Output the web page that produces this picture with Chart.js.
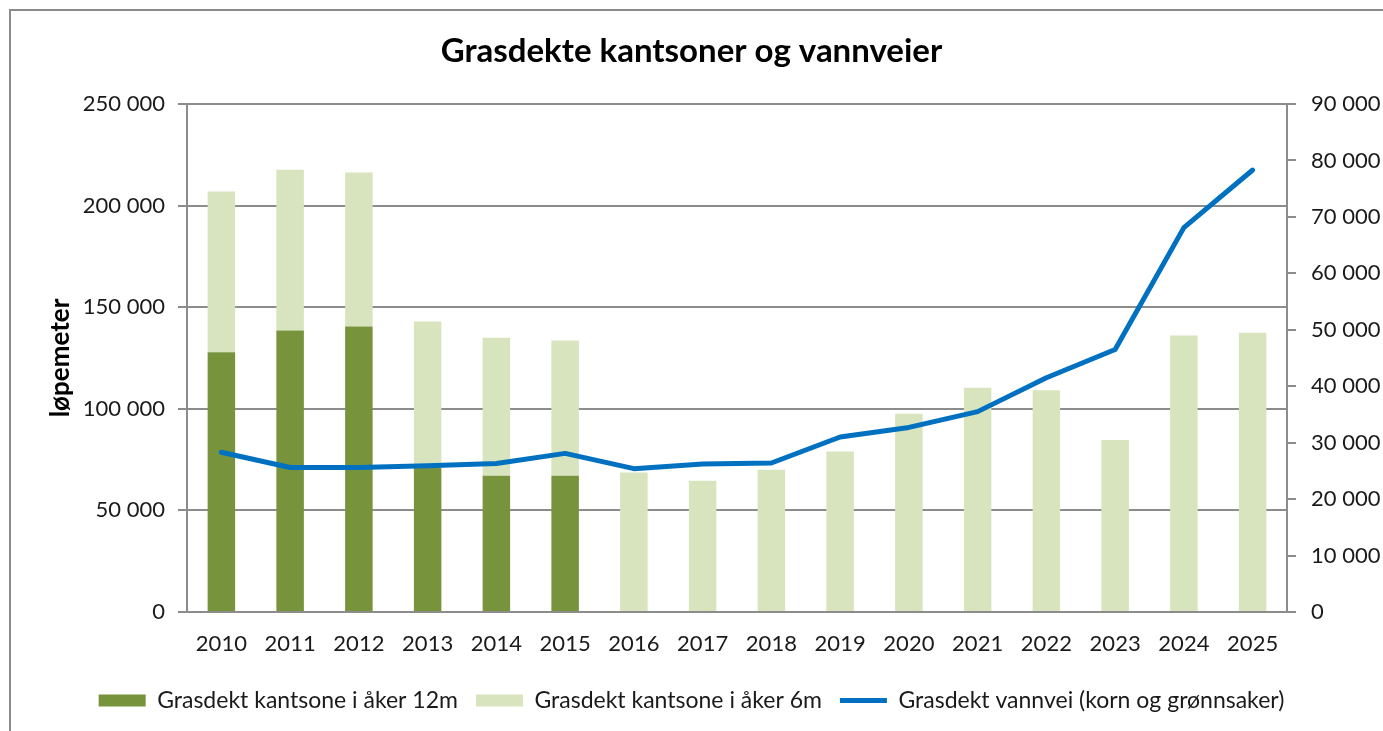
<!DOCTYPE html>
<html>
<head>
<meta charset="utf-8">
<script src="https://cdn.jsdelivr.net/npm/chart.js@4"></script>
<style>
  html, body { margin:0; padding:0; background:#fff; overflow:hidden; }
  #wrap { position:absolute; left:0; top:0; width:1383px; height:731px; }
  #frame { position:absolute; left:9px; top:9px; width:1400px; height:760px; border:2px solid #8c8c8c; box-sizing:border-box; pointer-events:none; }
</style>
</head>
<body>
<div id="wrap"><canvas id="c" width="1383" height="731"></canvas></div>
<div id="frame"></div>
<script>
const categories = ['2010','2011','2012','2013','2014','2015','2016','2017','2018','2019','2020','2021','2022','2023','2024','2025'];
const kantsone12m = [127800, 138500, 140500, 71000, 67000, 67000, 0, 0, 0, 0, 0, 0, 0, 0, 0, 0];
const kantsone6m  = [79200, 79200, 75800, 72000, 68000, 66600, 68700, 64600, 70000, 79000, 97600, 110300, 109100, 84700, 136100, 137400];
const vannvei     = [28300, 25600, 25600, 25900, 26300, 28100, 25400, 26200, 26400, 31000, 32700, 35500, 41500, 46500, 68100, 78300];
const seriesNames = ['Grasdekt kantsone i åker 12m', 'Grasdekt kantsone i åker 6m', 'Grasdekt vannvei (korn og grønnsaker)'];
const titleText = 'Grasdekte kantsoner og vannveier';
const yTitle = 'løpemeter';

const FONT = 'Lato';
const fmt = v => String(v).replace(/\B(?=(\d{3})+(?!\d))/g, ' ');

new Chart(document.getElementById('c'), {
  type: 'bar',
  data: {
    labels: categories,
    datasets: [
      { label: seriesNames[0], data: kantsone12m, backgroundColor: '#77933C', yAxisID: 'y', order: 1, barPercentage: 0.4, categoryPercentage: 1.0, stack: 's' },
      { label: seriesNames[1], data: kantsone6m, backgroundColor: '#D7E4BD', yAxisID: 'y', order: 2, barPercentage: 0.4, categoryPercentage: 1.0, stack: 's' },
      { type: 'line', label: seriesNames[2], data: vannvei, borderColor: '#0070C0', backgroundColor: '#0070C0', borderWidth: 5, pointRadius: 0, tension: 0, yAxisID: 'y1', order: 0, borderCapStyle: 'round', borderJoinStyle: 'round' }
    ]
  },
  options: {
    responsive: false,
    animation: false,
    devicePixelRatio: 1,
    layout: { padding: { left: 0, right: 0, top: 0, bottom: 9 } },
    plugins: {
      tooltip: { enabled: false },
      title: {
        display: true, text: titleText, color: '#000',
        font: { family: FONT, size: 33, weight: 'bold' },
        padding: { top: 32, bottom: 32.4 }
      },
      legend: {
        position: 'bottom',
        labels: {
          color: '#1a1a1a',
          font: { family: FONT, size: 23 },
          usePointStyle: true,
          pointStyleWidth: 47,
          boxHeight: 12,
          padding: 18,
          sort: (a, b) => a.datasetIndex - b.datasetIndex,
          generateLabels(chart) {
            const items = Chart.defaults.plugins.legend.labels.generateLabels(chart);
            items.forEach(it => {
              if (it.datasetIndex === 2) { it.pointStyle = 'line'; it.lineWidth = 5; it.strokeStyle = '#0070C0'; }
              else { it.pointStyle = 'rect'; it.lineWidth = 0; }
            });
            return items;
          }
        }
      }
    },
    scales: {
      x: {
        stacked: true,
        grid: { display: false },
        border: { display: true, color: '#8c8c8c', width: 2 },
        ticks: { color: '#1a1a1a', font: { family: FONT, size: 22 }, padding: 11, maxRotation: 0, autoSkip: false },
        afterFit(s) { s.height = 59; }
      },
      y: {
        stacked: true,
        position: 'left',
        min: 0, max: 250000,
        ticks: { stepSize: 50000, color: '#1a1a1a', font: { family: FONT, size: 22 }, padding: 13, callback: v => fmt(v) },
        grid: { color: '#8c8c8c', lineWidth: 2, tickLength: 9, drawTicks: true },
        border: { display: true, color: '#8c8c8c', width: 2 },
        title: { display: true, text: yTitle, color: '#000', font: { family: FONT, size: 26, weight: 'bold' }, padding: { top: 45, bottom: 0 } },
        afterFit(s) { s.width = 187; }
      },
      y1: {
        position: 'right',
        stacked: false,
        min: 0, max: 90000,
        ticks: { stepSize: 10000, color: '#1a1a1a', font: { family: FONT, size: 22 }, padding: 15, callback: v => fmt(v) },
        grid: { drawOnChartArea: false, color: '#8c8c8c', lineWidth: 2, tickLength: 9, drawTicks: true },
        border: { display: true, color: '#8c8c8c', width: 2 },
        afterFit(s) { s.width = 96; }
      }
    }
  }
});
</script>
</body>
</html>
